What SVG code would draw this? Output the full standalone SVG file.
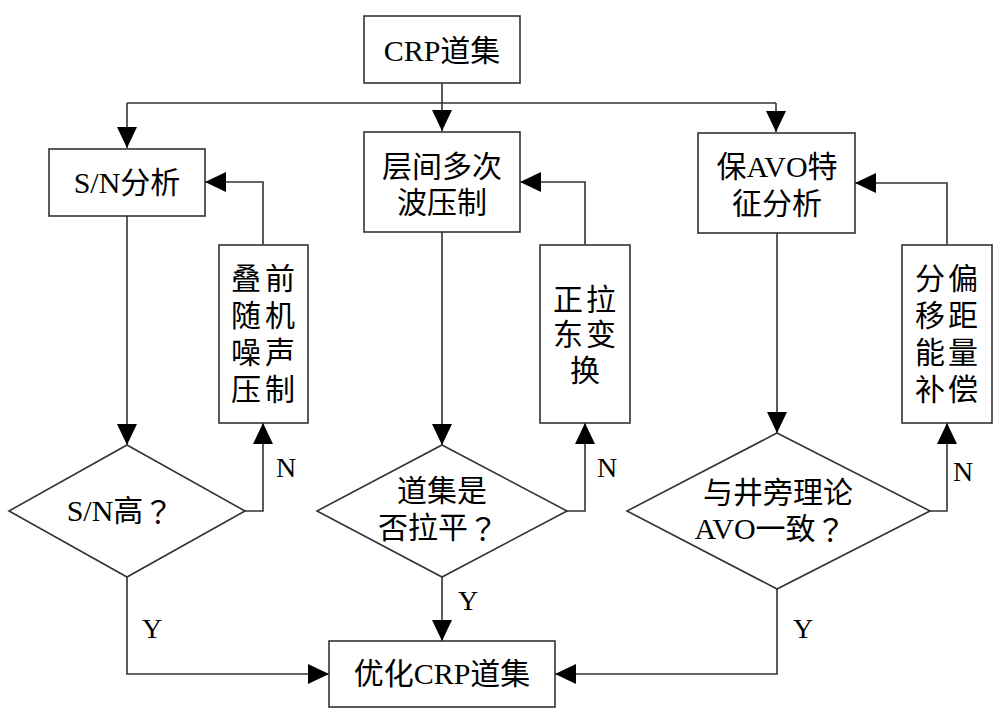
<svg xmlns="http://www.w3.org/2000/svg" width="1000" height="724" viewBox="0 0 1000 724">
<defs>
<marker id="ah" markerUnits="userSpaceOnUse" markerWidth="22" markerHeight="20" refX="21" refY="10" orient="auto" viewBox="0 0 22 20">
<path d="M0,0 L21,10 L0,20 z" fill="#000"/>
</marker>
</defs>
<style>
rect,polygon{fill:#fff;stroke:#333;stroke-width:1.6}
.c path{fill:none;stroke:#333;stroke-width:1.6}
text{font-family:"Liberation Serif","Noto Sans CJK SC",serif;font-size:30px;fill:#000;text-anchor:middle;dominant-baseline:central}
.q{font-family:"Noto Sans CJK TC","Noto Sans CJK SC",sans-serif}
.lbl{font-size:28px}
</style>
<rect x="0" y="0" width="1000" height="724" style="fill:#fff;stroke:none"/>
<g class="c" id="connectors">
<path d="M442,83 V131" marker-end="url(#ah)"/>
<path d="M127,103 H776" style="fill:none"/>
<path d="M127,103 V148" marker-end="url(#ah)"/>
<path d="M776,103 V132" marker-end="url(#ah)"/>
<path d="M127,216 V445" marker-end="url(#ah)"/>
<path d="M442,232 V445" marker-end="url(#ah)"/>
<path d="M777,233 V433" marker-end="url(#ah)"/>
<path d="M245,511 H263 V423" marker-end="url(#ah)"/>
<path d="M567,511 H585 V423" marker-end="url(#ah)"/>
<path d="M930,511 H947 V423" marker-end="url(#ah)"/>
<path d="M263,245 V182 H205" marker-end="url(#ah)"/>
<path d="M585,245 V182 H520" marker-end="url(#ah)"/>
<path d="M947,245 V183 H855" marker-end="url(#ah)"/>
<path d="M127,577 V674 H329" marker-end="url(#ah)"/>
<path d="M442,577 V641" marker-end="url(#ah)"/>
<path d="M777,589 V674 H555" marker-end="url(#ah)"/>
<text class="lbl" x="286" y="467">N</text>
<text class="lbl" x="607" y="467">N</text>
<text class="lbl" x="963" y="471">N</text>
<text class="lbl" x="152" y="628">Y</text>
<text class="lbl" x="468" y="600">Y</text>
<text class="lbl" x="803" y="628">Y</text>
</g>
<g id="start"><rect x="364" y="16" width="156" height="67"/><text x="442" y="50">CRP道集</text></g>
<g id="sn"><rect x="49" y="149" width="156" height="67"/><text x="127" y="182">S/N分析</text></g>
<g id="multiple"><rect x="364" y="132" width="156" height="100"/><text x="442" y="166">层间多次</text><text x="442" y="202">波压制</text></g>
<g id="avo"><rect x="698" y="133" width="157" height="100"/><text x="777" y="166">保AVO特</text><text x="777" y="203">征分析</text></g>
<g id="noise"><rect x="219" y="245" width="89" height="178"/>
<text x="246 280" y="278">叠前</text><text x="246 280" y="315">随机</text><text x="246 280" y="352">噪声</text><text x="246 280" y="389">压制</text></g>
<g id="radon"><rect x="540" y="245" width="90" height="178"/>
<text x="568 601" y="299">正拉</text><text x="568 601" y="334">东变</text><text x="585" y="370">换</text></g>
<g id="comp"><rect x="902" y="245" width="90" height="178"/>
<text x="930 963" y="278">分偏</text><text x="930 963" y="315">移距</text><text x="930 963" y="352">能量</text><text x="930 963" y="389">补偿</text></g>
<g id="d1"><polygon points="127,445 245,511 127,577 9,511"/><text x="120" y="510">S/N高<tspan class="q">？</tspan></text></g>
<g id="d2"><polygon points="442,445 567,511 442,577 317,511"/><text x="442" y="490">道集是</text><text x="438" y="527">否拉平<tspan class="q">？</tspan></text></g>
<g id="d3"><polygon points="777,433 930,511 777,589 627,511"/><text x="778" y="492">与井旁理论</text><text x="770" y="528">AVO一致<tspan class="q">？</tspan></text></g>
<g id="end"><rect x="329" y="641" width="226" height="66"/><text x="442" y="673">优化CRP道集</text></g>
</svg>
